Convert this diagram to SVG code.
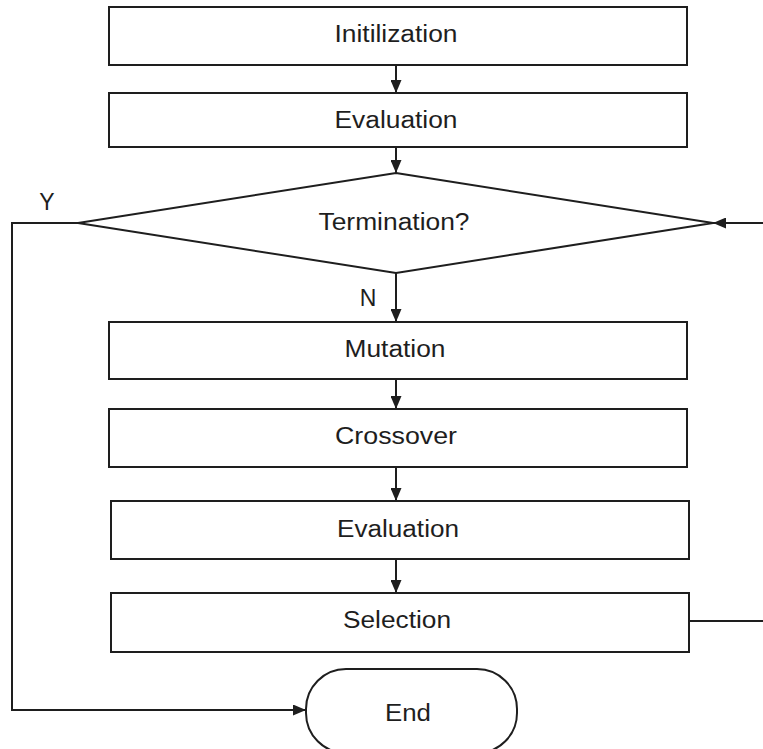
<svg xmlns="http://www.w3.org/2000/svg" width="763" height="749" viewBox="0 0 763 749">
  <style>
    .box { fill: #ffffff; stroke: #1e1e1e; stroke-width: 2; }
    .lbl { font-family: "Liberation Sans", Arial, sans-serif; font-size: 23px; fill: #1e1e1e; text-anchor: middle; }
    .wire { fill: none; stroke: #1e1e1e; stroke-width: 2; }
  </style>
  <defs>
    <marker id="head" viewBox="0 0 13 11" refX="13" refY="5.5" markerWidth="13" markerHeight="11" markerUnits="userSpaceOnUse" orient="auto">
      <path d="M0,0 L13,5.5 L0,11 z" fill="#1e1e1e"/>
    </marker>
  </defs>
  <rect width="763" height="749" fill="#ffffff"/>

  <g id="connectors">
    <line class="wire" x1="396" y1="65" x2="396" y2="93" marker-end="url(#head)"/>
    <line class="wire" x1="396" y1="147" x2="396" y2="173" marker-end="url(#head)"/>
    <line class="wire" x1="396" y1="273" x2="396" y2="322" marker-end="url(#head)"/>
    <line class="wire" x1="396" y1="379" x2="396" y2="409" marker-end="url(#head)"/>
    <line class="wire" x1="396" y1="467" x2="396" y2="501" marker-end="url(#head)"/>
    <line class="wire" x1="396" y1="559" x2="396" y2="593" marker-end="url(#head)"/>
    <line class="wire" x1="765" y1="223" x2="713" y2="223" marker-end="url(#head)"/>
    <line class="wire" x1="689" y1="621" x2="765" y2="621"/>
    <polyline class="wire" points="78,223 12,223 12,710 306,710" marker-end="url(#head)"/>
    <text class="lbl" x="47" y="210">Y</text>
    <text class="lbl" x="368" y="306">N</text>
  </g>

  <g id="init">
    <rect class="box" x="109" y="7" width="578" height="58"/>
    <text class="lbl" x="396" y="42" textLength="123" lengthAdjust="spacingAndGlyphs">Initilization</text>
  </g>
  <g id="eval1">
    <rect class="box" x="109" y="93" width="578" height="54"/>
    <text class="lbl" x="396" y="128" textLength="123" lengthAdjust="spacingAndGlyphs">Evaluation</text>
  </g>
  <g id="termination">
    <polygon class="box" points="396,173 713,223 396,273 78,223"/>
    <text class="lbl" x="394" y="230" textLength="151" lengthAdjust="spacingAndGlyphs">Termination?</text>
  </g>
  <g id="mutation">
    <rect class="box" x="109" y="322" width="578" height="57"/>
    <text class="lbl" x="395" y="357" textLength="101" lengthAdjust="spacingAndGlyphs">Mutation</text>
  </g>
  <g id="crossover">
    <rect class="box" x="109" y="409" width="578" height="58"/>
    <text class="lbl" x="396" y="444" textLength="122" lengthAdjust="spacingAndGlyphs">Crossover</text>
  </g>
  <g id="eval2">
    <rect class="box" x="111" y="501" width="578" height="58"/>
    <text class="lbl" x="398" y="537" textLength="122" lengthAdjust="spacingAndGlyphs">Evaluation</text>
  </g>
  <g id="selection">
    <rect class="box" x="111" y="593" width="578" height="59"/>
    <text class="lbl" x="397" y="628" textLength="108" lengthAdjust="spacingAndGlyphs">Selection</text>
  </g>
  <g id="end">
    <rect class="box" x="306" y="669" width="211" height="84" rx="40" ry="40"/>
    <text class="lbl" x="408" y="721" textLength="46" lengthAdjust="spacingAndGlyphs">End</text>
  </g>
</svg>
